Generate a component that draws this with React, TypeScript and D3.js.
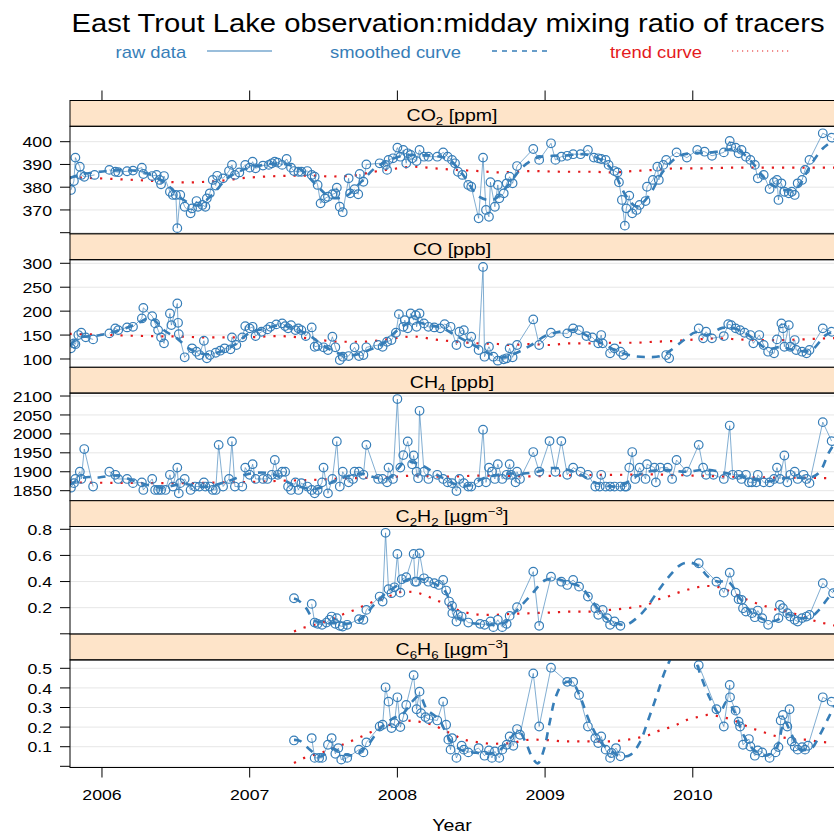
import React, { useEffect } from 'react';
import * as d3 from 'd3';

// ---- observation series: [decimal year, value]; null marks a missing stretch ----
type Obs = [number, number | null];

const co2Raw: Obs[] = [
  [2005.79, 378.8], [2005.81, 382.7], [2005.82, 393.0], [2005.85, 389.0], [2005.86, 385.4], [2005.88, 384.6], [2005.95, 385.4],
  [2006.0, null],
  [2006.05, 387.6], [2006.09, 386.8], [2006.11, 386.6], [2006.17, 387.0], [2006.21, 387.3], [2006.27, 388.6], [2006.28, 385.8],
  [2006.34, 384.9], [2006.37, 385.4], [2006.39, 383.2], [2006.40, 381.3], [2006.42, 384.9], [2006.46, 378.0], [2006.48, 376.6],
  [2006.50, 376.6], [2006.51, 362.0], [2006.53, 376.6], [2006.56, 371.4], [2006.60, 368.5], [2006.61, 370.7], [2006.64, 373.9],
  [2006.65, 371.4], [2006.68, 372.2], [2006.70, 371.4], [2006.71, 375.1], [2006.73, 377.3], [2006.75, 383.2], [2006.77, 380.7],
  [2006.78, 385.0], [2006.82, 383.9], [2006.86, 387.1], [2006.88, 389.8], [2006.90, 385.4], [2006.93, 386.5], [2006.97, 389.8],
  [2007.00, 388.6], [2007.02, 391.2], [2007.04, 388.3], [2007.09, 389.5], [2007.13, 389.8], [2007.15, 390.5], [2007.17, 391.2],
  [2007.19, 390.8], [2007.22, 389.8], [2007.25, 392.4], [2007.28, 388.6], [2007.30, 387.1], [2007.33, 386.8], [2007.35, 386.8],
  [2007.39, 387.1], [2007.42, 385.4], [2007.44, 384.6], [2007.46, 381.0], [2007.48, 372.9], [2007.51, 375.1], [2007.53, 375.8],
  [2007.56, 376.9], [2007.58, 377.3], [2007.59, 379.8], [2007.61, 371.4], [2007.63, 369.0], [2007.67, 383.9], [2007.68, 377.3],
  [2007.71, 379.1], [2007.735, 376.9], [2007.745, 385.8], [2007.77, 382.4], [2007.79, 390.0], [2007.88, 390.5], [2007.92, 389.8],
  [2007.93, 387.6], [2007.94, 392.0], [2007.97, 392.7], [2008.00, 397.4], [2008.02, 393.4], [2008.04, 396.4], [2008.06, 390.5],
  [2008.07, 394.9], [2008.09, 394.2], [2008.10, 392.7], [2008.13, 391.5], [2008.15, 396.4], [2008.18, 393.4], [2008.21, 393.4],
  [2008.27, 393.4], [2008.31, 395.3], [2008.34, 393.4], [2008.37, 392.0], [2008.39, 390.5], [2008.41, 386.8], [2008.44, 385.4],
  [2008.48, 381.0], [2008.50, 380.2], [2008.55, 366.3], [2008.58, 393.0], [2008.60, 370.0], [2008.62, 367.0], [2008.63, 382.2],
  [2008.66, 371.4], [2008.68, 381.0], [2008.69, 375.1], [2008.72, 377.3], [2008.74, 381.7], [2008.76, 384.6], [2008.78, 381.7],
  [2008.81, 389.3], [2008.92, 396.8], [2008.96, 392.0], [2009.04, 399.3], [2009.07, 392.0], [2009.11, 393.4], [2009.15, 393.8],
  [2009.19, 394.5], [2009.24, 394.5], [2009.29, 396.4], [2009.33, 393.0], [2009.36, 392.7], [2009.38, 392.4], [2009.41, 392.0],
  [2009.43, 389.8], [2009.47, 387.1], [2009.49, 386.5], [2009.50, 382.2], [2009.52, 374.4], [2009.54, 363.1], [2009.55, 370.7],
  [2009.57, 376.3], [2009.59, 368.5], [2009.62, 370.0], [2009.64, 372.2], [2009.68, 373.9], [2009.69, 380.2], [2009.73, 383.2],
  [2009.76, 389.0], [2009.77, 383.2], [2009.80, 389.8], [2009.82, 392.0], [2009.89, 395.3], [2009.96, 393.0], [2010.03, 396.4],
  [2010.08, 395.6], [2010.13, 393.8], [2010.21, 395.3], [2010.25, 400.3], [2010.26, 397.8], [2010.29, 397.4], [2010.31, 394.9],
  [2010.33, 396.4], [2010.36, 393.4], [2010.39, 392.0], [2010.42, 389.8], [2010.44, 383.9], [2010.48, 385.4], [2010.52, 379.2],
  [2010.55, 382.2], [2010.57, 383.2], [2010.58, 374.4], [2010.60, 381.7], [2010.62, 378.0], [2010.65, 377.3], [2010.67, 378.0],
  [2010.69, 376.6], [2010.71, 381.7], [2010.74, 383.2], [2010.76, 387.6], [2010.79, 392.0], [2010.88, 403.7], [2010.94, 401.8],
];

const co2Smooth: Obs[] = [
  [2005.78, 384], [2005.85, 385.5], [2005.95, 386.5], [2006.05, 387.2], [2006.15, 387.5], [2006.25, 387], [2006.35, 385],
  [2006.45, 380.5], [2006.55, 374.5], [2006.65, 372], [2006.75, 377], [2006.85, 384], [2006.95, 387.5], [2007.05, 389.3],
  [2007.15, 390.3], [2007.25, 390], [2007.35, 387.5], [2007.45, 381], [2007.55, 375.5], [2007.65, 376], [2007.75, 382],
  [2007.85, 388.5], [2007.95, 392], [2008.05, 394], [2008.15, 394], [2008.25, 393.8], [2008.35, 392], [2008.45, 385],
  [2008.55, 376], [2008.65, 374.5], [2008.75, 381], [2008.85, 389], [2008.95, 393], [2009.05, 393.8], [2009.15, 394],
  [2009.25, 394.5], [2009.35, 393], [2009.45, 388], [2009.55, 376], [2009.62, 371.5], [2009.7, 376], [2009.8, 387],
  [2009.9, 393.5], [2010.0, 395], [2010.1, 395], [2010.2, 396], [2010.3, 396.5], [2010.4, 391], [2010.5, 383],
  [2010.6, 379], [2010.7, 379.5], [2010.8, 390], [2010.88, 397], [2010.96, 401],
];

const co2Trend: Obs[] = [
  [2005.78, 384.3], [2005.85, 384.2], [2006.08, 383.6], [2006.28, 383.0], [2006.56, 382.1], [2006.78, 382.7], [2006.99, 384.2],
  [2007.27, 385.0], [2007.42, 385.1], [2007.55, 384.7], [2007.70, 385.1], [2007.84, 386.8], [2007.97, 388.0], [2008.11, 389.0],
  [2008.25, 388.3], [2008.40, 387.6], [2008.55, 387.1], [2008.68, 386.5], [2008.90, 387.1], [2009.11, 386.8], [2009.30, 386.8],
  [2009.46, 386.5], [2009.60, 387.1], [2009.74, 387.6], [2009.90, 388.3], [2010.03, 388.3], [2010.31, 388.6], [2010.59, 388.6],
  [2010.96, 388.6],
];

const coRaw: Obs[] = [
  [2005.79, 122.3], [2005.81, 132.7], [2005.82, 131], [2005.84, 150], [2005.86, 154.8], [2005.89, 145.2], [2005.94, 141],
  [2006.0, null],
  [2006.05, 153.5], [2006.09, 164], [2006.11, 160.4], [2006.17, 166], [2006.21, 167.3], [2006.27, 184.8], [2006.28, 206.9],
  [2006.34, 189.6], [2006.36, 174.4], [2006.38, 160.4], [2006.40, 145.2], [2006.42, 132.7], [2006.46, 195.2], [2006.47, 170.8],
  [2006.51, 216], [2006.515, 175.6], [2006.52, 152], [2006.56, 103.5], [2006.61, 122.3], [2006.64, 115.2], [2006.66, 108.3],
  [2006.69, 138.1], [2006.71, 101.5], [2006.73, 108.3], [2006.77, 113.1], [2006.80, 117.3], [2006.83, 122.3], [2006.87, 120.2],
  [2006.88, 145.2], [2006.91, 129.2], [2006.95, 145.2], [2006.97, 168.7], [2007.00, 164], [2007.02, 167.3], [2007.04, 147.9],
  [2007.08, 156.9], [2007.12, 161.9], [2007.14, 167.3], [2007.18, 172.3], [2007.22, 174.4], [2007.24, 168.7], [2007.26, 164],
  [2007.28, 170.8], [2007.31, 160.4], [2007.33, 164], [2007.35, 160.4], [2007.38, 147.9], [2007.42, 166], [2007.44, 125.6],
  [2007.46, 127.1], [2007.50, 124.4], [2007.53, 118.8], [2007.56, 146.5], [2007.58, 124.4], [2007.61, 97.9], [2007.63, 104.8],
  [2007.67, 106.2], [2007.71, 124.4], [2007.74, 106.2], [2007.77, 108.3], [2007.79, 124.4], [2007.87, 129.2], [2007.90, 125.6],
  [2007.93, 136], [2007.96, 139.6], [2007.99, 154.8], [2008.01, 193.7], [2008.04, 167.3], [2008.05, 181.2], [2008.07, 164],
  [2008.09, 195.2], [2008.11, 181.2], [2008.125, 191.7], [2008.13, 167.3], [2008.15, 195.2], [2008.18, 174.4], [2008.21, 167.3],
  [2008.25, 166], [2008.29, 164], [2008.32, 172.9], [2008.36, 167.3], [2008.40, 129.2], [2008.42, 156.9], [2008.45, 160.4],
  [2008.48, 132.7], [2008.50, 146.5], [2008.55, 118.8], [2008.58, 292.3], [2008.59, 104.8], [2008.62, 125.6], [2008.65, 104.8],
  [2008.68, 96.5], [2008.72, 99.4], [2008.74, 101.5], [2008.76, 122.3], [2008.78, 103.5], [2008.81, 129.2], [2008.92, 182.7],
  [2008.96, 129.2], [2009.04, 154.8], [2009.15, 153.5], [2009.19, 164], [2009.23, 160.4], [2009.28, 147.9], [2009.32, 145.2],
  [2009.36, 132.7], [2009.38, 150], [2009.39, 132.7], [2009.44, 111.9], [2009.47, 122.3], [2009.51, 115.2], [2009.53, 108.3],
  [2009.6, null],
  [2009.82, 108.3], [2009.84, 101.5],
  [2009.9, null],
  [2010.04, 164], [2010.07, 143.1], [2010.09, 156.9], [2010.13, 143.1], [2010.21, 147.9], [2010.24, 172.9], [2010.26, 170.8],
  [2010.29, 164], [2010.32, 160.4], [2010.35, 154.8], [2010.39, 150], [2010.41, 132.7], [2010.45, 150], [2010.48, 129.2],
  [2010.51, 115.2], [2010.55, 111.9], [2010.57, 141], [2010.60, 174.4], [2010.61, 164], [2010.62, 125.6], [2010.65, 170.8],
  [2010.66, 125.6], [2010.69, 139.6], [2010.70, 118.8], [2010.74, 115.2], [2010.77, 111.9], [2010.79, 118.8], [2010.88, 164],
  [2010.94, 156.9],
];

const coSmooth: Obs[] = [
  [2005.78, 128], [2005.85, 145], [2005.95, 148], [2006.05, 154], [2006.15, 163], [2006.25, 176], [2006.33, 186], [2006.42, 160],
  [2006.5, 145], [2006.6, 120], [2006.7, 110], [2006.8, 115], [2006.9, 130], [2007.0, 155], [2007.1, 163], [2007.2, 170],
  [2007.3, 164], [2007.4, 150], [2007.5, 128], [2007.6, 112], [2007.7, 108], [2007.8, 118], [2007.9, 132], [2008.0, 160],
  [2008.1, 178], [2008.2, 172], [2008.3, 165], [2008.4, 148], [2008.5, 132], [2008.6, 115], [2008.7, 103], [2008.8, 112],
  [2008.9, 128], [2009.0, 148], [2009.08, 156], [2009.2, 160], [2009.3, 146], [2009.4, 130], [2009.5, 115], [2009.6, 106],
  [2009.7, 104], [2009.78, 106], [2009.85, 118], [2009.95, 142], [2010.02, 156], [2010.1, 150], [2010.2, 165], [2010.3, 162],
  [2010.4, 145], [2010.5, 122], [2010.6, 125], [2010.7, 118], [2010.8, 118], [2010.9, 150], [2010.96, 158],
];

const coTrend: Obs[] = [
  [2005.78, 152.5], [2005.85, 152], [2006.0, 150.5], [2006.28, 148], [2006.5, 147], [2006.75, 145], [2007.0, 145.5],
  [2007.18, 148], [2007.34, 145], [2007.48, 139.6], [2007.61, 136], [2007.76, 136], [2007.9, 139.6], [2008.02, 145],
  [2008.11, 147], [2008.25, 141], [2008.4, 136], [2008.55, 132.7], [2008.68, 131.3], [2008.76, 129.2], [2008.9, 131.3],
  [2009.03, 129.2], [2009.17, 132.7], [2009.32, 132.7], [2009.46, 134], [2009.6, 134], [2009.74, 136], [2009.89, 138],
  [2010.03, 141], [2010.17, 143], [2010.31, 141], [2010.44, 139.6], [2010.59, 139.6], [2010.74, 141], [2010.9, 143],
  [2010.96, 143.5],
];

const ch4Raw: Obs[] = [
  [2005.79, 1858], [2005.81, 1870], [2005.82, 1881], [2005.85, 1900], [2005.86, 1881], [2005.88, 1960], [2005.94, 1861],
  [2006.0, null],
  [2006.05, 1900], [2006.09, 1892], [2006.11, 1881], [2006.17, 1881], [2006.21, 1870], [2006.27, 1872], [2006.28, 1852],
  [2006.34, 1881], [2006.36, 1852], [2006.38, 1852], [2006.40, 1852], [2006.43, 1852], [2006.46, 1892], [2006.48, 1861],
  [2006.51, 1911], [2006.52, 1843], [2006.53, 1870], [2006.56, 1881], [2006.60, 1852], [2006.63, 1861], [2006.66, 1861],
  [2006.69, 1872], [2006.70, 1861], [2006.73, 1861], [2006.75, 1852], [2006.77, 1852], [2006.79, 1971], [2006.82, 1861],
  [2006.86, 1881], [2006.88, 1980], [2006.90, 1861], [2006.95, 1861], [2006.97, 1911], [2007.00, 1892], [2007.02, 1920],
  [2007.04, 1881], [2007.09, 1881], [2007.12, 1881], [2007.15, 1892], [2007.17, 1931], [2007.19, 1892], [2007.22, 1900],
  [2007.24, 1900], [2007.26, 1861], [2007.28, 1852], [2007.31, 1872], [2007.33, 1852], [2007.35, 1870], [2007.39, 1861],
  [2007.42, 1852], [2007.44, 1843], [2007.46, 1852], [2007.49, 1872], [2007.50, 1911], [2007.53, 1843], [2007.56, 1881],
  [2007.59, 1980], [2007.61, 1861], [2007.63, 1900], [2007.67, 1872], [2007.70, 1881], [2007.71, 1900], [2007.74, 1900],
  [2007.77, 1892], [2007.79, 1971], [2007.87, 1881], [2007.90, 1881], [2007.93, 1872], [2007.94, 1911], [2007.97, 1881],
  [2008.00, 2092], [2008.02, 1911], [2008.04, 1944], [2008.07, 1980], [2008.10, 1920], [2008.11, 1943], [2008.13, 1900],
  [2008.14, 1883], [2008.15, 2061], [2008.18, 1900], [2008.21, 1881], [2008.27, 1892], [2008.31, 1881], [2008.34, 1872],
  [2008.37, 1870], [2008.40, 1849], [2008.42, 1881], [2008.45, 1870], [2008.48, 1861], [2008.50, 1861], [2008.55, 1872],
  [2008.58, 2011], [2008.60, 1872], [2008.62, 1911], [2008.64, 1900], [2008.66, 1881], [2008.68, 1920], [2008.71, 1881],
  [2008.74, 1892], [2008.76, 1920], [2008.77, 1892], [2008.80, 1872], [2008.81, 1900], [2008.83, 1881], [2008.92, 1952],
  [2008.96, 1900], [2009.03, 1981], [2009.07, 1900], [2009.11, 1981], [2009.15, 1892], [2009.19, 1911], [2009.24, 1900],
  [2009.29, 1892], [2009.34, 1861], [2009.37, 1861], [2009.38, 1892], [2009.41, 1861], [2009.44, 1861], [2009.47, 1861],
  [2009.51, 1861], [2009.54, 1861], [2009.55, 1861], [2009.57, 1911], [2009.59, 1952], [2009.61, 1881], [2009.64, 1911],
  [2009.68, 1881], [2009.69, 1920], [2009.74, 1911], [2009.75, 1872], [2009.78, 1911], [2009.83, 1911], [2009.86, 1881],
  [2009.89, 1931], [2009.96, 1900], [2010.04, 1971], [2010.07, 1911], [2010.09, 1892], [2010.14, 1892], [2010.21, 1881],
  [2010.25, 2022], [2010.27, 1892], [2010.31, 1892], [2010.33, 1881], [2010.36, 1892], [2010.38, 1872], [2010.40, 1872],
  [2010.43, 1872], [2010.44, 1892], [2010.48, 1872], [2010.52, 1872], [2010.55, 1881], [2010.57, 1911], [2010.59, 1881],
  [2010.62, 1943], [2010.64, 1872], [2010.66, 1892], [2010.69, 1900], [2010.71, 1881], [2010.75, 1892], [2010.77, 1881],
  [2010.79, 1870], [2010.88, 2031], [2010.94, 1981],
];

const ch4Smooth: Obs[] = [
  [2005.78, 1865], [2005.88, 1885], [2005.98, 1885], [2006.1, 1890], [2006.25, 1872], [2006.4, 1858], [2006.55, 1868],
  [2006.7, 1860], [2006.85, 1875], [2007.0, 1895], [2007.15, 1895], [2007.3, 1865], [2007.45, 1855], [2007.6, 1880],
  [2007.75, 1895], [2007.85, 1885], [2007.95, 1885], [2008.05, 1925], [2008.15, 1920], [2008.3, 1885], [2008.45, 1862],
  [2008.6, 1885], [2008.75, 1895], [2008.85, 1895], [2008.95, 1900], [2009.05, 1910], [2009.2, 1900], [2009.35, 1870],
  [2009.5, 1862], [2009.65, 1895], [2009.8, 1905], [2009.95, 1900], [2010.1, 1905], [2010.3, 1890], [2010.5, 1875],
  [2010.65, 1885], [2010.8, 1885], [2010.86, 1900], [2010.92, 1950], [2010.96, 1975],
];

const ch4Trend: Obs[] = [
  [2005.78, 1872], [2006.0, 1871], [2006.5, 1870], [2006.85, 1872], [2007.0, 1873], [2007.2, 1876], [2007.4, 1878],
  [2007.6, 1882], [2007.8, 1884], [2008.0, 1887], [2008.11, 1890], [2008.3, 1887], [2008.6, 1890], [2008.9, 1888],
  [2009.2, 1891], [2009.5, 1892], [2009.7, 1893], [2010.0, 1890], [2010.25, 1887], [2010.5, 1885], [2010.75, 1884],
  [2010.96, 1883],
];

const c2h2Raw: Obs[] = [
  [2007.30, 0.272],
  [2007.35, null],
  [2007.42, 0.229], [2007.44, 0.086], [2007.46, 0.076], [2007.49, 0.069], [2007.52, 0.086], [2007.54, 0.107], [2007.555, 0.132],
  [2007.58, 0.076], [2007.59, 0.12], [2007.61, 0.061], [2007.63, 0.056], [2007.66, 0.069], [2007.74, 0.112], [2007.77, 0.107],
  [2007.79, 0.183], [2007.88, 0.285], [2007.90, 0.247], [2007.92, 0.773], [2007.94, 0.341], [2007.96, 0.311], [2007.98, 0.356],
  [2008.00, 0.611], [2008.02, 0.315], [2008.03, 0.418], [2008.06, 0.433], [2008.11, 0.611], [2008.12, 0.399], [2008.13, 0.399],
  [2008.15, 0.616], [2008.18, 0.425], [2008.21, 0.399], [2008.25, 0.387], [2008.28, 0.374], [2008.31, 0.412], [2008.33, 0.331],
  [2008.35, 0.247], [2008.37, 0.214], [2008.372, 0.158], [2008.40, 0.094], [2008.41, 0.145], [2008.435, 0.132], [2008.48, 0.086],
  [2008.56, 0.076], [2008.59, 0.069], [2008.63, 0.094], [2008.65, 0.051], [2008.68, 0.107], [2008.71, 0.051], [2008.74, 0.076],
  [2008.76, 0.137], [2008.81, 0.204], [2008.92, 0.476], [2008.96, 0.061], [2009.04, 0.437], [2009.11, 0.399], [2009.15, 0.374],
  [2009.19, 0.412], [2009.23, 0.361], [2009.29, 0.285], [2009.34, 0.196], [2009.36, 0.145], [2009.39, 0.183], [2009.42, 0.12],
  [2009.44, 0.069], [2009.47, 0.094], [2009.51, 0.061],
  [2009.7, null],
  [2010.04, 0.54], [2010.16, 0.399], [2010.21, 0.315], [2010.25, 0.468], [2010.29, 0.315], [2010.31, 0.265], [2010.33, 0.26],
  [2010.34, 0.196], [2010.36, 0.17], [2010.40, 0.158], [2010.42, 0.127], [2010.44, 0.178], [2010.47, 0.12], [2010.51, 0.069],
  [2010.58, 0.12], [2010.59, 0.221], [2010.61, 0.196], [2010.64, 0.158], [2010.66, 0.132], [2010.69, 0.107], [2010.71, 0.094],
  [2010.74, 0.12], [2010.77, 0.132], [2010.79, 0.145], [2010.88, 0.387], [2010.95, 0.311],
];

const c2h2Smooth: Obs[] = [
  [2007.30, 0.27], [2007.33, 0.255], [2007.38, 0.2], [2007.44, 0.1], [2007.52, 0.085], [2007.6, 0.08], [2007.68, 0.08],
  [2007.76, 0.12], [2007.84, 0.22], [2007.92, 0.31], [2008.0, 0.37], [2008.08, 0.42], [2008.16, 0.42], [2008.24, 0.39],
  [2008.32, 0.33], [2008.4, 0.14], [2008.48, 0.09], [2008.56, 0.075], [2008.64, 0.07], [2008.72, 0.08], [2008.8, 0.17],
  [2008.9, 0.29], [2009.0, 0.41], [2009.08, 0.42], [2009.16, 0.39], [2009.24, 0.36], [2009.32, 0.25], [2009.4, 0.13],
  [2009.48, 0.08], [2009.55, 0.07], [2009.62, 0.12], [2009.68, 0.19], [2009.76, 0.32], [2009.84, 0.44], [2009.92, 0.53],
  [2009.98, 0.545], [2010.04, 0.52], [2010.1, 0.44], [2010.17, 0.4], [2010.24, 0.4], [2010.32, 0.27], [2010.4, 0.16],
  [2010.48, 0.11], [2010.56, 0.1], [2010.64, 0.15], [2010.72, 0.12], [2010.8, 0.13], [2010.86, 0.19], [2010.92, 0.28],
  [2010.96, 0.33],
];

const c2h2Trend: Obs[] = [
  [2007.30, 0.018], [2007.37, 0.048], [2007.44, 0.069], [2007.51, 0.094], [2007.57, 0.12], [2007.64, 0.153], [2007.71, 0.183],
  [2007.77, 0.214], [2007.84, 0.247], [2007.90, 0.272], [2007.97, 0.298], [2008.04, 0.323], [2008.11, 0.32], [2008.18, 0.298],
  [2008.24, 0.27], [2008.31, 0.234], [2008.38, 0.196], [2008.44, 0.17], [2008.51, 0.153], [2008.58, 0.145], [2008.65, 0.145],
  [2008.78, 0.153], [2008.91, 0.158], [2009.04, 0.163], [2009.17, 0.17], [2009.31, 0.17], [2009.44, 0.183], [2009.56, 0.196],
  [2009.63, 0.208], [2009.69, 0.221], [2009.76, 0.26], [2009.83, 0.285], [2009.89, 0.311], [2009.96, 0.336], [2010.03, 0.356],
  [2010.10, 0.366], [2010.16, 0.361], [2010.23, 0.336], [2010.30, 0.298], [2010.37, 0.26], [2010.43, 0.234], [2010.50, 0.208],
  [2010.57, 0.183], [2010.64, 0.17], [2010.71, 0.145], [2010.77, 0.12], [2010.84, 0.094], [2010.91, 0.076], [2010.97, 0.06],
];

const c6h6Raw: Obs[] = [
  [2007.30, 0.132],
  [2007.35, null],
  [2007.42, 0.144], [2007.44, 0.043], [2007.47, 0.043], [2007.49, 0.043], [2007.53, 0.11], [2007.555, 0.144], [2007.58, 0.064],
  [2007.60, 0.093], [2007.62, 0.034], [2007.66, 0.043], [2007.74, 0.085], [2007.77, 0.071], [2007.79, 0.122], [2007.88, 0.203],
  [2007.90, 0.212], [2007.92, 0.403], [2007.94, 0.33], [2007.96, 0.195], [2007.98, 0.22], [2008.00, 0.352], [2008.02, 0.2],
  [2008.04, 0.251], [2008.06, 0.313], [2008.11, 0.465], [2008.13, 0.291], [2008.15, 0.381], [2008.16, 0.271], [2008.19, 0.251],
  [2008.21, 0.241], [2008.27, 0.234], [2008.31, 0.33], [2008.33, 0.212], [2008.345, 0.136], [2008.36, 0.085], [2008.37, 0.144],
  [2008.40, 0.043], [2008.435, 0.105], [2008.45, 0.085], [2008.48, 0.071], [2008.55, 0.093], [2008.59, 0.054], [2008.62, 0.081],
  [2008.64, 0.043], [2008.66, 0.076], [2008.69, 0.043], [2008.71, 0.085], [2008.74, 0.11], [2008.76, 0.152], [2008.785, 0.105],
  [2008.81, 0.19], [2008.83, 0.161], [2008.92, 0.474], [2008.96, 0.203], [2009.04, 0.503], [2009.15, 0.431], [2009.19, 0.431],
  [2009.23, 0.364], [2009.29, 0.203], [2009.34, 0.144], [2009.36, 0.119], [2009.38, 0.152], [2009.41, 0.085], [2009.44, 0.043],
  [2009.45, 0.068], [2009.48, 0.093], [2009.51, 0.051],
  [2009.7, null],
  [2010.04, 0.516], [2010.16, 0.291], [2010.21, 0.203], [2010.25, 0.415], [2010.252, 0.352], [2010.29, 0.284], [2010.31, 0.228],
  [2010.32, 0.203], [2010.34, 0.11], [2010.38, 0.139], [2010.39, 0.101], [2010.42, 0.054], [2010.44, 0.081], [2010.47, 0.071],
  [2010.52, 0.043], [2010.56, 0.071], [2010.58, 0.098], [2010.595, 0.234], [2010.61, 0.262], [2010.64, 0.203], [2010.655, 0.291],
  [2010.67, 0.127], [2010.69, 0.101], [2010.71, 0.085], [2010.74, 0.098], [2010.76, 0.085], [2010.78, 0.105], [2010.88, 0.352],
  [2010.94, 0.33],
];

const c6h6Smooth: Obs[] = [
  [2007.30, 0.135], [2007.34, 0.13], [2007.4, 0.09], [2007.48, 0.05], [2007.56, 0.09], [2007.64, 0.06], [2007.72, 0.06],
  [2007.8, 0.11], [2007.88, 0.19], [2007.96, 0.24], [2008.04, 0.27], [2008.1, 0.33], [2008.15, 0.36], [2008.2, 0.29],
  [2008.28, 0.24], [2008.36, 0.13], [2008.44, 0.08], [2008.52, 0.07], [2008.6, 0.065], [2008.68, 0.075], [2008.76, 0.14],
  [2008.82, 0.18], [2008.87, 0.12], [2008.91, 0.05], [2008.95, 0.015], [2008.99, 0.08], [2009.03, 0.22], [2009.07, 0.35],
  [2009.12, 0.42], [2009.18, 0.43], [2009.24, 0.35], [2009.3, 0.23], [2009.38, 0.12], [2009.46, 0.07], [2009.52, 0.05],
  [2009.58, 0.06], [2009.64, 0.12], [2009.7, 0.24], [2009.76, 0.37], [2009.82, 0.5], [2009.88, 0.58], [2009.95, 0.6],
  [2010.01, 0.55], [2010.06, 0.45], [2010.12, 0.34], [2010.18, 0.27], [2010.23, 0.33], [2010.28, 0.28], [2010.35, 0.15],
  [2010.42, 0.08], [2010.5, 0.055], [2010.57, 0.1], [2010.62, 0.23], [2010.67, 0.16], [2010.72, 0.09], [2010.8, 0.09],
  [2010.86, 0.16], [2010.92, 0.25], [2010.96, 0.31],
];

const c6h6Trend: Obs[] = [
  [2007.30, 0.017], [2007.37, 0.043], [2007.44, 0.059], [2007.51, 0.076], [2007.57, 0.093], [2007.64, 0.114], [2007.71, 0.136],
  [2007.77, 0.156], [2007.84, 0.181], [2007.90, 0.203], [2007.97, 0.215], [2008.04, 0.228], [2008.11, 0.234], [2008.17, 0.223],
  [2008.24, 0.212], [2008.31, 0.186], [2008.38, 0.161], [2008.44, 0.139], [2008.51, 0.127], [2008.58, 0.119], [2008.65, 0.115],
  [2008.78, 0.119], [2008.85, 0.132], [2008.92, 0.136], [2009.05, 0.132], [2009.13, 0.127], [2009.40, 0.127], [2009.49, 0.13],
  [2009.56, 0.136], [2009.62, 0.144], [2009.69, 0.156], [2009.76, 0.178], [2009.83, 0.195], [2009.89, 0.212], [2009.96, 0.237],
  [2010.03, 0.251], [2010.10, 0.262], [2010.16, 0.257], [2010.23, 0.246], [2010.30, 0.228], [2010.37, 0.203], [2010.43, 0.186],
  [2010.50, 0.169], [2010.57, 0.152], [2010.64, 0.144], [2010.71, 0.136], [2010.77, 0.136], [2010.84, 0.127], [2010.91, 0.122],
  [2010.97, 0.12],
];

// ---- axes ----
const yearTicks = [2006, 2007, 2008, 2009, 2010];
const xLimits: [number, number] = [2005.7835, 2010.956];

const co2Limits: [number, number] = [359.47, 406.77];
const co2Ticks = [360, 370, 380, 390, 400];
const co2TickLabels = ['', '370', '380', '390', '400'];

const coLimits: [number, number] = [82.65, 307.5];
const coTicks = [100, 150, 200, 250, 300];
const coTickLabels = ['100', '150', '200', '250', '300'];

const ch4Limits: [number, number] = [1823.6, 2107.7];
const ch4Ticks = [1850, 1900, 1950, 2000, 2050, 2100];
const ch4TickLabels = ['1850', '1900', '1950', '2000', '2050', '2100'];

const c2h2Limits: [number, number] = [-0.0023, 0.8214];
const c2h2Ticks = [0, 0.2, 0.4, 0.6, 0.8];
const c2h2TickLabels = ['', '0.2', '0.4', '0.6', '0.8'];

const c6h6Limits: [number, number] = [-0.0061, 0.5429];
const c6h6Ticks = [0, 0.1, 0.2, 0.3, 0.4, 0.5];
const c6h6TickLabels = ['', '0.1', '0.2', '0.3', '0.4', '0.5'];

// strip titles: [text, 'sub' | 'sup' | '']
type Piece = [string, string];
const co2Label: Piece[] = [['CO', ''], ['2', 'sub'], [' [ppm]', '']];
const coLabel: Piece[] = [['CO [ppb]', '']];
const ch4Label: Piece[] = [['CH', ''], ['4', 'sub'], [' [ppb]', '']];
const c2h2Label: Piece[] = [['C', ''], ['2', 'sub'], ['H', ''], ['2', 'sub'], [' [µgm', ''], ['−3', 'sup'], [']', '']];
const c6h6Label: Piece[] = [['C', ''], ['6', 'sub'], ['H', ''], ['6', 'sub'], [' [µgm', ''], ['−3', 'sup'], [']', '']];

const titleText = 'East Trout Lake observation:midday mixing ratio of tracers';
const legendItems = ['raw data', 'smoothed curve', 'trend curve'];
const xAxisTitle = 'Year';

// ---- styling ----
const W = 834;
const H = 836;
const BLUE = '#377eb8';
const RED = '#e41a1c';
const STRIP_FILL = '#fee4c9';
const GRID = '#e6e6e6';
const FONT = "'Liberation Sans', Arial, Helvetica, sans-serif";
const SX = 1.15; // horizontal stretch applied to all lettering

const PLOT_L = 70;
const PLOT_R = 834;
const TOP0 = 100.5;
const STEP = 133.4;
const STRIP_H = 25.8;

interface PanelDef {
  key: string;
  label: Piece[];
  raw: Obs[];
  smooth: Obs[];
  trend: Obs[];
  limits: [number, number];
  ticks: number[];
  tickLabels: string[];
}

const panels: PanelDef[] = [
  { key: 'co2', label: co2Label, raw: co2Raw, smooth: co2Smooth, trend: co2Trend, limits: co2Limits, ticks: co2Ticks, tickLabels: co2TickLabels },
  { key: 'co', label: coLabel, raw: coRaw, smooth: coSmooth, trend: coTrend, limits: coLimits, ticks: coTicks, tickLabels: coTickLabels },
  { key: 'ch4', label: ch4Label, raw: ch4Raw, smooth: ch4Smooth, trend: ch4Trend, limits: ch4Limits, ticks: ch4Ticks, tickLabels: ch4TickLabels },
  { key: 'c2h2', label: c2h2Label, raw: c2h2Raw, smooth: c2h2Smooth, trend: c2h2Trend, limits: c2h2Limits, ticks: c2h2Ticks, tickLabels: c2h2TickLabels },
  { key: 'c6h6', label: c6h6Label, raw: c6h6Raw, smooth: c6h6Smooth, trend: c6h6Trend, limits: c6h6Limits, ticks: c6h6Ticks, tickLabels: c6h6TickLabels },
];

function Txt(props: { x: number; y: number; size: number; anchor?: string; fill?: string; children: React.ReactNode }) {
  const { x, y, size, anchor = 'start', fill = '#000', children } = props;
  return (
    <text
      transform={`translate(${x},${y}) scale(${SX},1)`}
      fontSize={size}
      fontFamily={FONT}
      textAnchor={anchor as any}
      fill={fill}
    >
      {children}
    </text>
  );
}

function StripLabel({ pieces, x, y, size }: { pieces: Piece[]; x: number; y: number; size: number }) {
  let shift = 0;
  const spans = pieces.map(([t, kind], i) => {
    const target = kind === 'sub' ? 4 : kind === 'sup' ? -6.5 : 0;
    const dy = target - shift;
    shift = target;
    return (
      <tspan key={i} dy={dy} fontSize={kind ? size * 0.68 : size}>
        {t}
      </tspan>
    );
  });
  return (
    <Txt x={x} y={y} size={size} anchor="middle">
      {spans}
    </Txt>
  );
}

export default function App() {
  useEffect(() => {
    document.body.style.margin = '0';
  }, []);

  const x = d3.scaleLinear().domain(xLimits).range([PLOT_L, PLOT_R]);
  const midX = (PLOT_L + PLOT_R) / 2;
  const lastBottom = TOP0 + STEP * panels.length;

  return (
    <svg width={W} height={H} style={{ position: 'absolute', left: 0, top: 0, display: 'block' }}>
      <rect x={0} y={0} width={W} height={H} fill="#fff" />

      {/* title */}
      <Txt x={71.6} y={31.5} size={25.4}>{titleText}</Txt>

      {/* legend */}
      <g>
        <Txt x={115.6} y={58} size={16} fill={BLUE}>{legendItems[0]}</Txt>
        <line x1={207} x2={272} y1={51} y2={51} stroke={BLUE} strokeWidth={1.1} />
        <Txt x={330} y={58} size={16} fill={BLUE}>{legendItems[1]}</Txt>
        <line x1={492} x2={551} y1={51} y2={51} stroke={BLUE} strokeWidth={1.3} strokeDasharray="5 5" />
        <Txt x={610} y={58} size={16} fill={RED}>{legendItems[2]}</Txt>
        <line x1={732} x2={791} y1={51} y2={51} stroke={RED} strokeWidth={1.1} strokeDasharray="1.2 3.8" />
      </g>

      {/* top year ticks */}
      {yearTicks.map((yr) => (
        <line key={`tt${yr}`} x1={x(yr)} x2={x(yr)} y1={TOP0 - 10} y2={TOP0} stroke="#000" strokeWidth={1} />
      ))}

      <defs>
        {panels.map((p, i) => {
          const top = TOP0 + i * STEP;
          return (
            <clipPath id={`clip-${p.key}`} key={p.key}>
              <rect x={PLOT_L} y={top + STRIP_H} width={PLOT_R - PLOT_L + 2} height={STEP - STRIP_H} />
            </clipPath>
          );
        })}
      </defs>

      {panels.map((p, i) => {
        const top = TOP0 + i * STEP;
        const pTop = top + STRIP_H;
        const pBot = top + STEP;
        const y = d3.scaleLinear().domain(p.limits).range([pBot, pTop]);
        const rawLine = d3
          .line<Obs>()
          .defined((d) => d[1] != null)
          .x((d) => x(d[0]))
          .y((d) => y(d[1] as number));
        const smoothLine = d3
          .line<Obs>()
          .x((d) => x(d[0]))
          .y((d) => y(d[1] as number))
          .curve(d3.curveCatmullRom.alpha(0.5));
        const trendLine = d3
          .line<Obs>()
          .x((d) => x(d[0]))
          .y((d) => y(d[1] as number))
          .curve(d3.curveMonotoneX);
        const pts = p.raw.filter((d) => d[1] != null);
        return (
          <g key={p.key}>
            {/* strip */}
            <rect x={PLOT_L} y={top} width={PLOT_R - PLOT_L + 2} height={STRIP_H} fill={STRIP_FILL} stroke="#000" strokeWidth={1} />
            <StripLabel pieces={p.label} x={midX} y={top + 20.8} size={17} />

            {/* grid */}
            {p.ticks.map((t) => (
              <line key={`g${t}`} x1={PLOT_L} x2={PLOT_R + 2} y1={y(t)} y2={y(t)} stroke={GRID} strokeWidth={1} />
            ))}

            <g clipPath={`url(#clip-${p.key})`}>
              <path d={trendLine(p.trend) || ''} fill="none" stroke={RED} strokeWidth={2.2} strokeDasharray="2.2 8" />
              <path d={smoothLine(p.smooth) || ''} fill="none" stroke={BLUE} strokeWidth={2.6} strokeDasharray="8 7" />
              <path d={rawLine(p.raw) || ''} fill="none" stroke={BLUE} strokeWidth={0.7} strokeOpacity={0.9} />
              {pts.map((d, k) => (
                <circle key={k} cx={x(d[0])} cy={y(d[1] as number)} r={4.3} fill="none" stroke={BLUE} strokeWidth={1.2} />
              ))}
            </g>

            {/* panel frame */}
            <rect x={PLOT_L} y={pTop} width={PLOT_R - PLOT_L + 2} height={pBot - pTop} fill="none" stroke="#000" strokeWidth={1} />

            {/* left axis */}
            {p.ticks.map((t, k) => (
              <g key={`t${t}`}>
                <line x1={PLOT_L - 10} x2={PLOT_L} y1={y(t)} y2={y(t)} stroke="#000" strokeWidth={1} />
                {p.tickLabels[k] ? (
                  <Txt x={52} y={y(t) + 5.6} size={15.4} anchor="end">{p.tickLabels[k]}</Txt>
                ) : null}
              </g>
            ))}
          </g>
        );
      })}

      {/* bottom year axis */}
      {yearTicks.map((yr) => (
        <g key={`bt${yr}`}>
          <line x1={x(yr)} x2={x(yr)} y1={lastBottom} y2={lastBottom + 10} stroke="#000" strokeWidth={1} />
          <Txt x={x(yr)} y={800} size={15.4} anchor="middle">{String(yr)}</Txt>
        </g>
      ))}
      <Txt x={midX} y={831} size={17} anchor="middle">{xAxisTitle}</Txt>
    </svg>
  );
}
